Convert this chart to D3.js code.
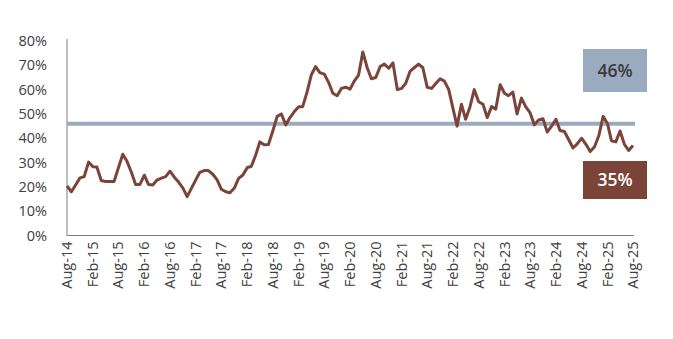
<!DOCTYPE html>
<html><head><meta charset="utf-8">
<script src="https://cdn.jsdelivr.net/npm/d3@7"></script>
<style>
html,body{margin:0;padding:0;background:#fff;}
svg{display:block;font-family:"Open Sans",sans-serif;}
</style></head>
<body><svg id="c" width="673" height="339"></svg>
<script>
const startMonth = "2014-08";
const values = [
20.4,18,20.8,23.7,24.2,30.2,28.3,28.2,22.6,22.2,22.2,22.2,27.8,33.4,30.5,26,21,21,24.8,21,
20.8,22.8,23.6,24.2,26.5,24,22,19.5,16,19.5,23,26,26.7,26.7,25.2,23,19,18,17.6,19.5,
23.5,24.9,28,28.4,33,38.5,37.3,37.4,43,49,50,45.5,48.5,51,53,53,59,66,69.5,67,
66.4,63,58.5,57.5,60.5,61,60.2,63.5,66,75.5,69,64.5,65,69.5,70.5,68.8,71,60,60.5,62.5,
67.5,69,70.5,69,61,60.5,62.5,64.5,63.5,60,52,45,54,47.8,53,60,55,54,48.5,53,
52,62,58.5,57.5,59,50,56.5,53,50.5,45.5,47.5,48,42.5,45,47.8,43.2,42.8,39.5,36,37.7,
40,37.5,34.5,36.5,41,49,46,39,38.5,43,37.5,35,37
];
const avgValue = 46;
const avgLabel = "46%";
const latestLabel = "35%";
const yTicks = [0,10,20,30,40,50,60,70,80];
const monthNames = ["Jan","Feb","Mar","Apr","May","Jun","Jul","Aug","Sep","Oct","Nov","Dec"];

const svg = d3.select("#c");
const parse = d3.timeParse("%Y-%m");
const t0 = parse(startMonth);
const data = values.map((v,i)=>({d:d3.timeMonth.offset(t0,i), v}));

const x = d3.scaleTime().domain([data[0].d, data[data.length-1].d]).range([67, 633]);
const y = d3.scaleLinear().domain([0,80]).range([235.5, 41]);

// axes lines
const axisColor = "#7f7f7f";
svg.append("line").attr("x1",67).attr("x2",67).attr("y1",y(80)-2).attr("y2",y(0)).attr("stroke",axisColor).attr("stroke-width",1);
svg.append("line").attr("x1",67).attr("x2",634).attr("y1",y(0)).attr("y2",y(0)).attr("stroke",axisColor).attr("stroke-width",1);

// y labels
svg.append("g").selectAll("text").data(yTicks).join("text")
  .attr("x",47).attr("y",d=>y(d)).attr("dy","0.35em").attr("text-anchor","end")
  .attr("font-size",14.5).attr("fill","#404040").text(d=>d+"%");

// x labels
const xTicks = data.filter((d,i)=>i%6===0).map(d=>d.d);
svg.append("g").selectAll("text").data(xTicks).join("text")
  .attr("transform",d=>`translate(${x(d)},${y(0)+6}) rotate(-90)`)
  .attr("dy","0.35em").attr("text-anchor","end")
  .attr("font-size",14.5).attr("fill","#404040")
  .text(d=>monthNames[d.getMonth()]+"-"+String(d.getFullYear()).slice(2));

// average line
svg.append("line").attr("x1",67).attr("x2",635).attr("y1",y(avgValue)).attr("y2",y(avgValue))
  .attr("stroke","#9aabbf").attr("stroke-width",4);

// data line
svg.append("path").datum(data)
  .attr("d", d3.line().x(d=>x(d.d)).y(d=>y(d.v)))
  .attr("fill","none").attr("stroke","#7b4439").attr("stroke-width",3).attr("stroke-linejoin","round");

// label boxes
const bx = 583, bw = 64;
svg.append("rect").attr("x",bx).attr("y",49).attr("width",bw).attr("height",43).attr("fill","#9aabbf");
svg.append("text").attr("x",bx+bw/2).attr("y",70.5).attr("dy","0.35em").attr("text-anchor","middle")
  .attr("font-size",17.5).attr("font-weight",600).attr("fill","#3a3a3a").text(avgLabel);
svg.append("rect").attr("x",bx).attr("y",161).attr("width",bw).attr("height",38).attr("fill","#7b4439");
svg.append("text").attr("x",bx+bw/2).attr("y",180).attr("dy","0.35em").attr("text-anchor","middle")
  .attr("font-size",17.5).attr("font-weight",600).attr("fill","#ffffff").text(latestLabel);
</script></body></html>
